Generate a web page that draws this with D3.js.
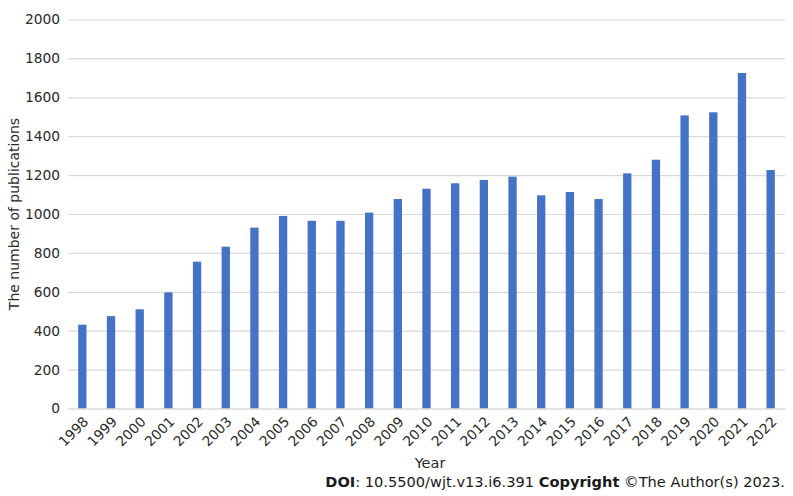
<!DOCTYPE html>
<html><head><meta charset="utf-8">
<script src="https://cdn.jsdelivr.net/npm/d3@7"></script>
<style>body{margin:0;background:#fff}svg{display:block}</style>
</head><body>
<svg id="c" width="793" height="496"></svg>
<script>
const years = ["1998","1999","2000","2001","2002","2003","2004","2005","2006","2007","2008","2009","2010","2011","2012","2013","2014","2015","2016","2017","2018","2019","2020","2021","2022"];
const publications = [431,475,510,597,755,832,930,990,965,965,1007,1077,1130,1158,1175,1192,1096,1113,1077,1209,1279,1507,1523,1725,1226];
const yTicks = [0,200,400,600,800,1000,1200,1400,1600,1800,2000];

(function(){
const svg = d3.select("#c");
const font = "DejaVu Sans, Verdana, sans-serif";
const pLeft = 68, pRight = 785, pTop = 19.5, pBottom = 408.5;
const x = d3.scaleBand().domain(years).range([pLeft, pRight]).paddingInner(0.71).paddingOuter(0.355);
const y = d3.scaleLinear().domain([0, 2000]).range([pBottom, pTop]);

// gridlines
const gy = svg.append("g").attr("transform", `translate(${pLeft},0)`)
  .call(d3.axisLeft(y).tickValues(yTicks).tickSize(-(pRight-pLeft)).tickFormat(d3.format("d")).tickPadding(8));
gy.select(".domain").remove();
gy.selectAll(".tick line").attr("stroke", "#d9d9d9").attr("stroke-width", 1.2);
gy.selectAll(".tick text").attr("font-family", font).attr("font-size", 13.8).attr("fill", "#2b2b2b");

// bars
svg.append("g").selectAll("rect").data(years).join("rect")
  .attr("x", d => x(d)).attr("width", x.bandwidth())
  .attr("y", (d,i) => y(publications[i])).attr("height", (d,i) => pBottom - y(publications[i]))
  .attr("fill", "#4472c4");

// x axis
const gx = svg.append("g").attr("transform", `translate(0,${pBottom})`)
  .call(d3.axisBottom(x).tickSize(0).tickPadding(0));
gx.select(".domain").attr("stroke", "#d9d9d9").attr("stroke-width", 1.2);
gx.selectAll(".tick text")
  .attr("font-family", font).attr("font-size", 13.8).attr("fill", "#2b2b2b")
  .attr("text-anchor", "end").attr("dy", 0)
  .attr("transform", "translate(7,14) rotate(-45)");

// axis titles
svg.append("text").attr("x", 430).attr("y", 468).attr("text-anchor", "middle")
  .attr("font-family", font).attr("font-size", 14.5).attr("fill", "#2b2b2b").text("Year");
svg.append("text").attr("transform", "translate(19,214) rotate(-90)").attr("text-anchor", "middle")
  .attr("font-family", font).attr("font-size", 14).attr("fill", "#2b2b2b").text("The number of publications");

// footer
const f = svg.append("text").attr("x", 785).attr("y", 487).attr("text-anchor", "end")
  .attr("font-family", font).attr("font-size", 14.6).attr("fill", "#1a1a1a");
f.append("tspan").attr("font-weight", "bold").text("DOI");
f.append("tspan").text(": 10.5500/wjt.v13.i6.391 ");
f.append("tspan").attr("font-weight", "bold").text("Copyright");
f.append("tspan").text(" ©The Author(s) 2023.");
})();
</script>
</body></html>
